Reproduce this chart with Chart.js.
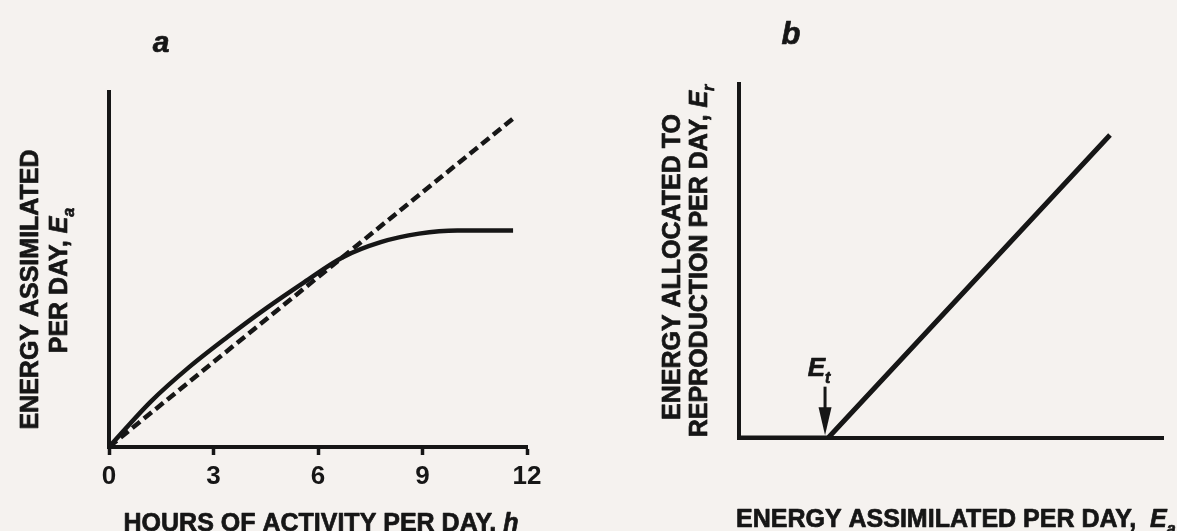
<!DOCTYPE html>
<html><head><meta charset="utf-8">
<script src="https://cdn.jsdelivr.net/npm/chart.js@4.4.0/dist/chart.umd.min.js"></script>
<style>
html,body{margin:0;padding:0;background:#f5f2ef;overflow:hidden;}
#wrap{position:relative;width:1177px;height:531px;background:#f5f2ef;}
#ca{position:absolute;left:0;top:0;}
#cb{position:absolute;left:600px;top:0;}
</style></head><body>
<div id="wrap"><canvas id="ca" width="600" height="531"></canvas><canvas id="cb" width="577" height="531"></canvas></div>
<script>
// ---- Panel a data ----
const hoursA = [0, 1.2, 2.3, 3.4, 4.5, 5.6, 6.7, 7.8, 8.9, 10.0, 11.6];
const assimilatedA = [0, 1.28, 2.25, 3.1, 3.9, 4.64, 5.34, 5.77, 6.01, 6.1, 6.1];
const proportionalHours = [0, 11.6];
const proportionalEnergy = [0, 9.25];
const hourTicks = [0, 3, 6, 9, 12];

// ---- Panel b data ----
const assimilatedB = [0, 2.1, 8.75];
const reproductionB = [0, 0, 8.56];
const thresholdEt = 2.1;
const arrowFrom = 1.45;
const arrowTo = 0.08;

const ink = '#161616';
const fam = '"Liberation Sans", Arial, Helvetica, sans-serif';
const SIZE = 25, SUB = 16;

function fontFor(p) {
  const sz = p.sub ? SUB : (p.size || SIZE);
  return (p.italic ? 'italic ' : '') + 'bold ' + sz + 'px ' + fam;
}
function richWidth(ctx, parts) {
  let w = 0;
  for (const p of parts) { ctx.font = fontFor(p); w += ctx.measureText(p.text).width; }
  return w;
}
// draws rich text centred at (cx, baseline cy), optionally rotated
function drawRich(ctx, parts, cx, cy, rot, align) {
  ctx.save();
  ctx.translate(cx, cy);
  if (rot) ctx.rotate(rot);
  ctx.fillStyle = ink;
  ctx.strokeStyle = ink;
  ctx.lineWidth = 0.7;
  ctx.lineJoin = 'round';
  ctx.textBaseline = 'alphabetic';
  ctx.textAlign = 'left';
  const w = richWidth(ctx, parts);
  let x = align === 'left' ? 0 : -w / 2;
  for (const p of parts) {
    ctx.font = fontFor(p);
    const yy = p.sub ? 7 : 0;
    ctx.fillText(p.text, x, yy);
    ctx.strokeText(p.text, x, yy);
    x += ctx.measureText(p.text).width;
  }
  ctx.restore();
}

const labelsA = {
  id: 'labelsA',
  afterDraw(chart) {
    const ctx = chart.ctx, a = chart.chartArea;
    const midX = (a.left + a.right) / 2, midY = (a.top + a.bottom) / 2;
    drawRich(ctx, [{text: 'a', italic: true, size: 30}], a.left + 52, 52);
    drawRich(ctx, [{text: 'HOURS OF ACTIVITY PER DAY, '}, {text: 'h', italic: true}], midX + 3, 531);
    drawRich(ctx, [{text: 'ENERGY ASSIMILATED'}], a.left - 71, midY + 20, -Math.PI / 2);
    drawRich(ctx, [{text: 'PER DAY, '}, {text: 'E', italic: true}, {text: 'a', italic: true, sub: true}], a.left - 42, midY + 11, -Math.PI / 2);
  }
};

const labelsB = {
  id: 'labelsB',
  afterDraw(chart) {
    const ctx = chart.ctx, a = chart.chartArea;
    const xs = chart.scales.x, ys = chart.scales.y;
    const midY = (a.top + a.bottom) / 2;
    drawRich(ctx, [{text: 'b', italic: true, size: 31}], a.left + 52, 44);
    drawRich(ctx, [{text: 'ENERGY ASSIMILATED PER DAY,  '}, {text: 'E', italic: true}, {text: 'a', italic: true, sub: true}], a.left - 3, 527, 0, 'left');
    drawRich(ctx, [{text: 'ENERGY ALLOCATED TO'}], a.left - 59, midY + 6, -Math.PI / 2);
    drawRich(ctx, [{text: 'REPRODUCTION PER DAY, '}, {text: 'E', italic: true}, {text: 'r', italic: true, sub: true}], a.left - 32, midY, -Math.PI / 2);
    // threshold arrow
    const ax = xs.getPixelForValue(thresholdEt) - 3;
    const yTop = ys.getPixelForValue(arrowFrom);
    const yTip = ys.getPixelForValue(arrowTo);
    const headLen = 28, headW = 13;
    ctx.save();
    ctx.strokeStyle = ink; ctx.fillStyle = ink; ctx.lineWidth = 3;
    ctx.beginPath(); ctx.moveTo(ax, yTop); ctx.lineTo(ax, yTip - headLen + 2); ctx.stroke();
    ctx.beginPath();
    ctx.moveTo(ax - headW / 2, yTip - headLen);
    ctx.lineTo(ax + headW / 2, yTip - headLen);
    ctx.lineTo(ax, yTip);
    ctx.closePath(); ctx.fill();
    ctx.restore();
    drawRich(ctx, [{text: 'E', italic: true, size: 26}, {text: 't', italic: true, sub: true}], ax - 6, yTop - 11);
  }
};

new Chart(document.getElementById('ca'), {
  type: 'line',
  data: { datasets: [
    { label: 'Energy assimilated', data: hoursA.map((h, i) => ({x: h, y: assimilatedA[i]})),
      borderColor: ink, borderWidth: 4.5, pointRadius: 0, cubicInterpolationMode: 'monotone', fill: false },
    { label: 'Proportional', data: proportionalHours.map((h, i) => ({x: h, y: proportionalEnergy[i]})),
      borderColor: ink, borderWidth: 4.5, borderDash: [10, 5], pointRadius: 0, fill: false }
  ]},
  options: {
    responsive: false, animation: false, devicePixelRatio: 1,
    layout: { padding: { top: 92, right: 73, left: 0, bottom: 0 } },
    plugins: { legend: { display: false }, tooltip: { enabled: false } },
    scales: {
      x: { type: 'linear', min: 0, max: 12,
        afterBuildTicks: s => { s.ticks = hourTicks.map(v => ({value: v})); },
        afterFit: s => { s.height = 84; },
        grid: { display: true, drawOnChartArea: false, drawTicks: true, tickLength: 8, tickWidth: 3.5, tickColor: ink },
        border: { display: true, color: ink, width: 4 },
        ticks: { color: ink, font: { family: fam, size: 26, weight: 'bold' }, padding: 6, maxRotation: 0, autoSkip: false } },
      y: { type: 'linear', min: 0, max: 10,
        afterFit: s => { s.width = 109; },
        grid: { display: false },
        border: { display: true, color: ink, width: 4 },
        ticks: { display: false } }
    }
  },
  plugins: [labelsA]
});

new Chart(document.getElementById('cb'), {
  type: 'line',
  data: { datasets: [
    { label: 'Energy allocated to reproduction', data: assimilatedB.map((v, i) => ({x: v, y: reproductionB[i]})),
      borderColor: ink, borderWidth: 5, pointRadius: 0, tension: 0, fill: false }
  ]},
  options: {
    responsive: false, animation: false, devicePixelRatio: 1,
    layout: { padding: { top: 84, right: 14, left: 0, bottom: 0 } },
    plugins: { legend: { display: false }, tooltip: { enabled: false } },
    scales: {
      x: { type: 'linear', min: 0, max: 10,
        afterFit: s => { s.height = 93; },
        grid: { display: false },
        border: { display: true, color: ink, width: 4 },
        ticks: { display: false } },
      y: { type: 'linear', min: 0, max: 10,
        afterFit: s => { s.width = 139; },
        grid: { display: false },
        border: { display: true, color: ink, width: 4 },
        ticks: { display: false } }
    }
  },
  plugins: [labelsB]
});
</script>
</body></html>
